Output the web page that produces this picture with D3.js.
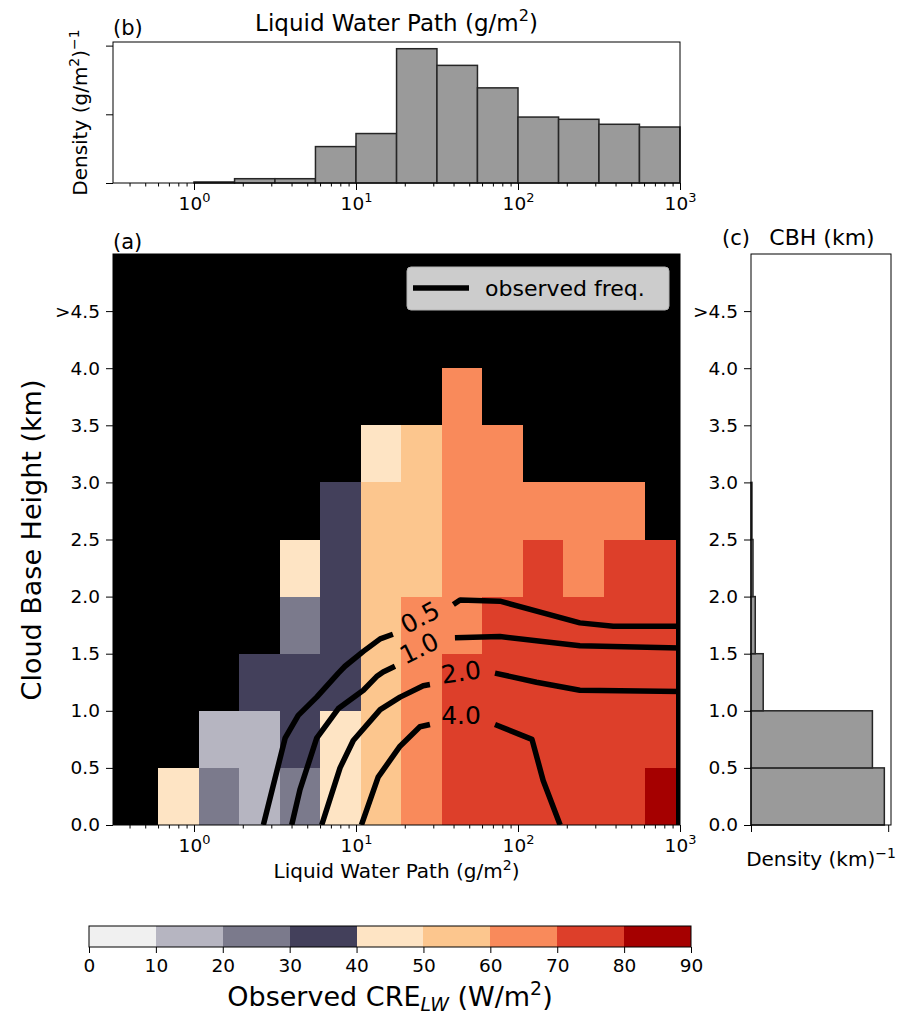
<!DOCTYPE html>
<html>
<head>
<meta charset="utf-8">
<script src="https://cdn.jsdelivr.net/npm/d3@7"></script>
<style>
  body { margin: 0; background: #fff; }
  text { font-family: "DejaVu Sans", sans-serif; fill: #000; }
</style>
</head>
<body>
<svg id="fig" width="898" height="1020"></svg>
<script>
// ---- data ----
// LWP bin edges (g/m2) of the CRE grid, CBH bin edges (km)
var lwpEdges = [0.6, 1.07, 1.9, 3.4, 6.0, 10.7, 19, 34, 60, 107, 190, 340, 608, 944];
var cbhEdges = [0, 0.5, 1.0, 1.5, 2.0, 2.5, 3.0, 3.5, 4.0, 4.5, 5.0];

// observed CRE_LW (W/m2) per cell, one array per CBH bin (lowest first), null = empty
var creRow0 = [45, 25, 15, 25, 45, 55, 65, 75, 75, 75, 75, 75, 85];
var creRow1 = [null, 15, 15, 35, 45, 55, 65, 75, 75, 75, 75, 75, 75];
var creRow2 = [null, null, 35, 35, 35, 55, 65, 75, 75, 75, 75, 75, 75];
var creRow3 = [null, null, null, 25, 35, 55, 65, 65, 75, 75, 75, 75, 75];
var creRow4 = [null, null, null, 45, 35, 55, 55, 65, 65, 75, 65, 75, 75];
var creRow5 = [null, null, null, null, 35, 55, 55, 65, 65, 65, 65, 65, null];
var creRow6 = [null, null, null, null, null, 45, 55, 65, 65, null, null, null, null];
var creRow7 = [null, null, null, null, null, null, null, 65, null, null, null, null, null];
var creRows = [creRow0, creRow1, creRow2, creRow3, creRow4, creRow5, creRow6, creRow7];

var creLevels = [0, 10, 20, 30, 40, 50, 60, 70, 80, 90];
var creColors = ["#f0f0f0", "#b6b5c1", "#7b7a8c", "#43405b", "#fee4c4",
                 "#fcc68e", "#f98a5b", "#dd3f2a", "#a50000"];

// observed frequency contours: [LWP, CBH] points, null = gap for the label
var freq05 = [[2.68, 0], [3.65, 0.76], [4.40, 0.96], [5.72, 1.12], [7.78, 1.33], [8.55, 1.39],
              [11.1, 1.52], [14.1, 1.63], [16.9, 1.67], null,
              [39.9, 1.93], [43.9, 1.97], [77.4, 1.96], [241, 1.77], [387, 1.74], [1000, 1.74]];
var freq10 = [[4.01, 0], [4.51, 0.31], [5.72, 0.76], [7.78, 1.02], [11.1, 1.18], [13.4, 1.30],
              [14.7, 1.34], [17.4, 1.39], null,
              [40.8, 1.64], [77.4, 1.65], [241, 1.57], [1000, 1.55]];
var freq20 = [[6.14, 0], [7.97, 0.50], [9.62, 0.74], [14.1, 1.01], [18.7, 1.12], [26.0, 1.22],
              [28.6, 1.23], null,
              [72.1, 1.33], [130, 1.25], [241, 1.18], [1000, 1.17]];
var freq40 = [[10.8, 0], [13.7, 0.42], [18.7, 0.69], [24.8, 0.86], [28.6, 0.88], null,
              [72.1, 0.88], [122, 0.75], [143, 0.39], [182, 0]];
var freqLines = [freq05, freq10, freq20, freq40];
var freqLabels = ["0.5", "1.0", "2.0", "4.0"];
// label anchor [LWP, CBH, angle]
var freqLabelAt = [[24.8, 1.82, -28], [24.5, 1.55, -26], [44.5, 1.34, -8], [44.5, 0.96, 0]];

// (b) LWP histogram
var lwpHistEdges = [1, 1.78, 3.16, 5.62, 10, 17.8, 31.6, 56.2, 100, 178, 316, 562, 1000];
var lwpDensity = [0.006, 0.025, 0.025, 0.212, 0.288, 0.782, 0.685, 0.554, 0.384, 0.371, 0.342, 0.326];

// (c) CBH histogram (km^-1), lowest bin first
var cbhDensity = [0.972, 0.885, 0.089, 0.031, 0.0145, 0.007];

var cbhTicks = [0, 0.5, 1.0, 1.5, 2.0, 2.5, 3.0, 3.5, 4.0, 4.5];
var cbhTickLabels = ["0.0", "0.5", "1.0", "1.5", "2.0", "2.5", "3.0", "3.5", "4.0", ">4.5"];
var lwpTicks = [1, 10, 100, 1000];

// ---- layout ----
var main = { l: 113, r: 680, t: 254, b: 825 };
var topP = { l: 113, r: 680, t: 42, b: 183 };
var side = { l: 751, r: 891, t: 254, b: 825 };
var cbar = { l: 89, r: 691, t: 926, b: 947 };
var tickFs = 18.5;

var svg = d3.select("#fig");

var x = d3.scaleLog().domain([Math.pow(10, -0.5), 1000]).range([main.l, main.r]);
var y = d3.scaleLinear().domain([0, 5]).range([main.b, main.t]);
var yTop = d3.scaleLinear().domain([0, d3.max(lwpDensity) * 1.05]).range([topP.b, topP.t]);
var xSide = d3.scaleLinear().domain([0, d3.max(cbhDensity) * 1.05]).range([side.l, side.r]);
var xCb = d3.scaleLinear().domain([0, 90]).range([cbar.l, cbar.r]);
var color = d3.scaleThreshold().domain(creLevels.slice(1, -1)).range(creColors);

var minorTicks = [];
[-1, 0, 1, 2].forEach(function (k) {
  for (var m = 2; m <= 9; m++) {
    var v = m * Math.pow(10, k);
    if (v > Math.pow(10, -0.5) && v < 1000) minorTicks.push(v);
  }
});

// text with super/subscripts
function rich(sel, parts, fs) {
  var shift = 0;
  parts.forEach(function (p) {
    var ts = sel.append("tspan").text(p.t);
    var want = p.sup ? -0.42 * fs : (p.sub ? 0.2 * fs : 0);
    if (want !== shift) ts.attr("dy", want - shift);
    shift = want;
    if (p.sup || p.sub) ts.style("font-size", (fs * 0.7) + "px");
    if (p.it) ts.style("font-style", "italic");
  });
}

function styleAxis(g) {
  g.attr("font-family", null).attr("font-size", null);
  g.select("path.domain").remove();
  g.selectAll("line").attr("stroke", "#000").attr("stroke-width", 1);
  g.selectAll("text").style("font-size", tickFs + "px").attr("fill", "#000");
}

function logAxis(yPos, withLabels) {
  var g = svg.append("g").attr("transform", "translate(0," + yPos + ")")
    .call(d3.axisBottom(x).tickValues(minorTicks).tickSize(3.5).tickFormat(""));
  styleAxis(g);
  var gm = svg.append("g").attr("transform", "translate(0," + yPos + ")")
    .call(d3.axisBottom(x).tickValues(lwpTicks).tickSize(7).tickPadding(7));
  styleAxis(gm);
  gm.selectAll(".tick text").each(function (d) {
    var t = d3.select(this).text(null);
    if (withLabels) rich(t, [{ t: "10" }, { t: String(Math.round(Math.log10(d))), sup: true }], tickFs);
  });
}

// ---- (a) main panel ----
svg.append("clipPath").attr("id", "clipMain").append("rect")
  .attr("x", main.l).attr("y", main.t).attr("width", main.r - main.l).attr("height", main.b - main.t);

svg.append("rect").attr("x", main.l).attr("y", main.t)
  .attr("width", main.r - main.l).attr("height", main.b - main.t).attr("fill", "#000");

var cells = [];
creRows.forEach(function (row, r) {
  row.forEach(function (v, c) {
    if (v !== null) cells.push({ r: r, c: c, v: v });
  });
});

var plot = svg.append("g").attr("clip-path", "url(#clipMain)");
plot.selectAll("rect.cell").data(cells).enter().append("rect")
  .attr("class", "cell")
  .attr("x", function (d) { return x(lwpEdges[d.c]); })
  .attr("width", function (d) { return x(lwpEdges[d.c + 1]) - x(lwpEdges[d.c]); })
  .attr("y", function (d) { return y(cbhEdges[d.r + 1]); })
  .attr("height", function (d) { return y(cbhEdges[d.r]) - y(cbhEdges[d.r + 1]); })
  .attr("fill", function (d) { return color(d.v); })
  .attr("shape-rendering", "crispEdges");

var line = d3.line()
  .defined(function (d) { return d !== null; })
  .x(function (d) { return x(d[0]); })
  .y(function (d) { return y(d[1]); });

plot.selectAll("path.freq").data(freqLines).enter().append("path")
  .attr("class", "freq")
  .attr("d", line)
  .attr("fill", "none")
  .attr("stroke", "#000")
  .attr("stroke-width", 5.5)
  .attr("stroke-linejoin", "round");

plot.selectAll("text.flab").data(freqLabelAt).enter().append("text")
  .attr("class", "flab")
  .attr("transform", function (d) { return "translate(" + x(d[0]) + "," + y(d[1]) + ") rotate(" + d[2] + ")"; })
  .attr("text-anchor", "middle")
  .attr("dy", "0.36em")
  .style("font-size", "25px")
  .text(function (d, i) { return freqLabels[i]; });

// legend
var lg = svg.append("g");
lg.append("rect").attr("x", 407).attr("y", 267).attr("width", 262).attr("height", 43)
  .attr("rx", 4).attr("fill", "#cccccc").attr("stroke", "#b3b3b3");
lg.append("line").attr("x1", 413).attr("x2", 469).attr("y1", 288).attr("y2", 288)
  .attr("stroke", "#000").attr("stroke-width", 5.5);
lg.append("text").attr("x", 485).attr("y", 296).style("font-size", "22px").text("observed freq.");

svg.append("rect").attr("x", main.l).attr("y", main.t)
  .attr("width", main.r - main.l).attr("height", main.b - main.t)
  .attr("fill", "none").attr("stroke", "#000").attr("stroke-width", 1);

logAxis(main.b, true);

var gy = svg.append("g").attr("transform", "translate(" + main.l + ",0)")
  .call(d3.axisLeft(y).tickValues(cbhTicks).tickSize(7).tickPadding(6)
    .tickFormat(function (d, i) { return cbhTickLabels[i]; }));
styleAxis(gy);

svg.append("text").attr("transform", "translate(41,540) rotate(-90)")
  .attr("text-anchor", "middle").style("font-size", "27px").text("Cloud Base Height (km)");

rich(svg.append("text").attr("x", (main.l + main.r) / 2).attr("y", 878).attr("text-anchor", "middle")
  .style("font-size", "20px"),
  [{ t: "Liquid Water Path (g/m" }, { t: "2", sup: true }, { t: ")" }], 20);

svg.append("text").attr("x", main.l).attr("y", 249).style("font-size", "21px").text("(a)");

// ---- (b) LWP histogram ----
var bins = lwpDensity.map(function (v, i) { return { x0: lwpHistEdges[i], x1: lwpHistEdges[i + 1], v: v }; });
svg.append("g").selectAll("rect").data(bins).enter().append("rect")
  .attr("x", function (d) { return x(d.x0); })
  .attr("width", function (d) { return x(d.x1) - x(d.x0); })
  .attr("y", function (d) { return yTop(d.v); })
  .attr("height", function (d) { return topP.b - yTop(d.v); })
  .attr("fill", "#9a9a9a").attr("stroke", "#262626").attr("stroke-width", 1.5);

svg.append("rect").attr("x", topP.l).attr("y", topP.t)
  .attr("width", topP.r - topP.l).attr("height", topP.b - topP.t)
  .attr("fill", "none").attr("stroke", "#000").attr("stroke-width", 1);

logAxis(topP.b, true);

var gyt = svg.append("g").attr("transform", "translate(" + topP.l + ",0)")
  .call(d3.axisLeft(yTop).tickValues([0, 0.4, 0.8]).tickSize(7).tickFormat(""));
styleAxis(gyt);

rich(svg.append("text").attr("transform", "translate(87," + ((topP.t + topP.b) / 2) + ") rotate(-90)")
  .attr("text-anchor", "middle").style("font-size", "20px"),
  [{ t: "Density (g/m" }, { t: "2", sup: true }, { t: ")" }, { t: "\u22121", sup: true }], 20);

rich(svg.append("text").attr("x", (topP.l + topP.r) / 2).attr("y", 31).attr("text-anchor", "middle")
  .style("font-size", "23px"),
  [{ t: "Liquid Water Path (g/m" }, { t: "2", sup: true }, { t: ")" }], 23);

svg.append("text").attr("x", topP.l).attr("y", 35).style("font-size", "21px").text("(b)");

// ---- (c) CBH histogram ----
svg.append("g").selectAll("rect").data(cbhDensity).enter().append("rect")
  .attr("x", side.l)
  .attr("width", function (d) { return xSide(d) - side.l; })
  .attr("y", function (d, i) { return y(cbhEdges[i + 1]); })
  .attr("height", function (d, i) { return y(cbhEdges[i]) - y(cbhEdges[i + 1]); })
  .attr("fill", "#9a9a9a").attr("stroke", "#262626").attr("stroke-width", 1.5);

svg.append("rect").attr("x", side.l).attr("y", side.t)
  .attr("width", side.r - side.l).attr("height", side.b - side.t)
  .attr("fill", "none").attr("stroke", "#000").attr("stroke-width", 1);

var gys = svg.append("g").attr("transform", "translate(" + side.l + ",0)")
  .call(d3.axisLeft(y).tickValues(cbhTicks).tickSize(7).tickPadding(6)
    .tickFormat(function (d, i) { return cbhTickLabels[i]; }));
styleAxis(gys);

var gxs = svg.append("g").attr("transform", "translate(0," + side.b + ")")
  .call(d3.axisBottom(xSide).tickValues([0, 1]).tickSize(7).tickFormat(""));
styleAxis(gxs);

rich(svg.append("text").attr("x", (side.l + side.r) / 2).attr("y", 866).attr("text-anchor", "middle")
  .style("font-size", "20px"),
  [{ t: "Density (km)" }, { t: "\u22121", sup: true }], 20);

svg.append("text").attr("x", 722).attr("y", 245).style("font-size", "21px").text("(c)");
svg.append("text").attr("x", 822).attr("y", 245).attr("text-anchor", "middle")
  .style("font-size", "22px").text("CBH (km)");

// ---- colorbar ----
var cbData = creColors.map(function (c, i) { return { a: creLevels[i], b: creLevels[i + 1], c: c }; });
svg.append("g").selectAll("rect").data(cbData).enter().append("rect")
  .attr("x", function (d) { return xCb(d.a); })
  .attr("width", function (d) { return xCb(d.b) - xCb(d.a); })
  .attr("y", cbar.t).attr("height", cbar.b - cbar.t)
  .attr("fill", function (d) { return d.c; })
  .attr("shape-rendering", "crispEdges");
svg.append("rect").attr("x", cbar.l).attr("y", cbar.t)
  .attr("width", cbar.r - cbar.l).attr("height", cbar.b - cbar.t)
  .attr("fill", "none").attr("stroke", "#000").attr("stroke-width", 1);

var gcb = svg.append("g").attr("transform", "translate(0," + cbar.b + ")")
  .call(d3.axisBottom(xCb).tickValues(creLevels).tickSize(6).tickPadding(6).tickFormat(d3.format("d")));
styleAxis(gcb);

rich(svg.append("text").attr("x", (cbar.l + cbar.r) / 2).attr("y", 1006).attr("text-anchor", "middle")
  .style("font-size", "27px"),
  [{ t: "Observed CRE" }, { t: "LW", sub: true, it: true }, { t: " (W/m" }, { t: "2", sup: true }, { t: ")" }], 27);
</script>
</body>
</html>
